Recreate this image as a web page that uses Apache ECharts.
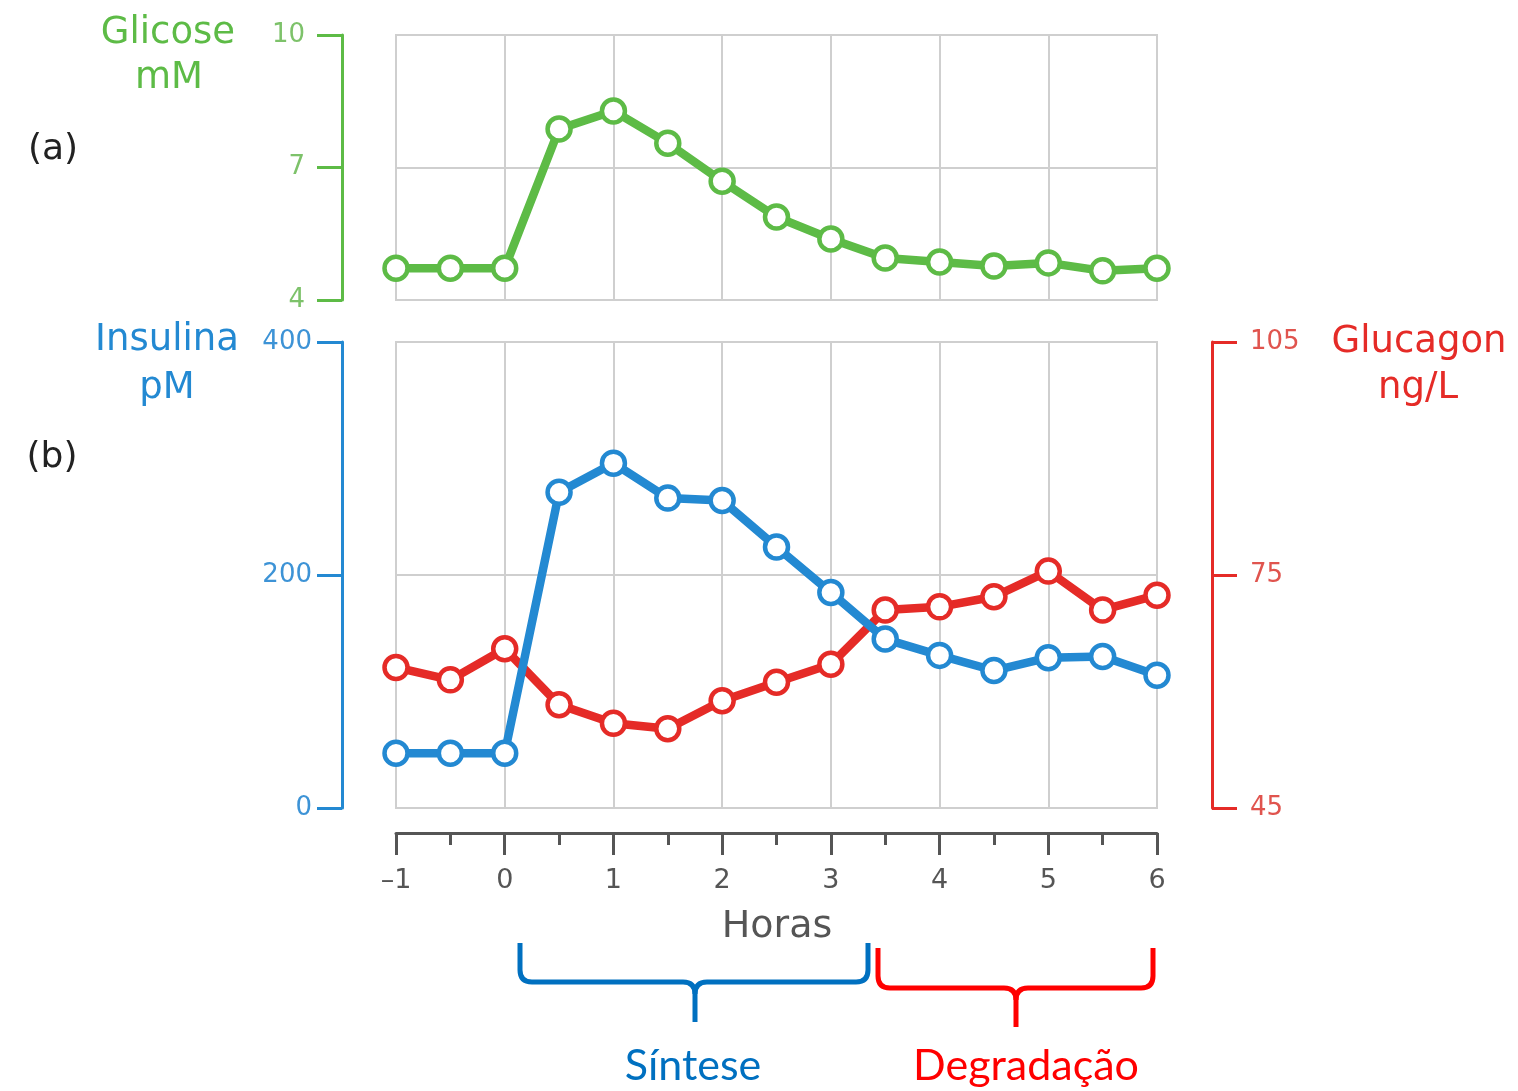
<!DOCTYPE html>
<html>
<head>
<meta charset="utf-8">
<script src="https://cdn.jsdelivr.net/npm/echarts@6/dist/echarts.min.js"></script>
<style>
html,body{margin:0;padding:0;background:#fff;}
#chart{width:1518px;height:1091px;}
</style>
</head>
<body>
<div id="chart"></div>
<script>
// ---- data ----
const hours = [-1, -0.5, 0, 0.5, 1, 1.5, 2, 2.5, 3, 3.5, 4, 4.5, 5, 5.5, 6];
const glucose = [4.72, 4.72, 4.72, 7.87, 8.28, 7.55, 6.69, 5.88, 5.38, 4.95, 4.86, 4.77, 4.84, 4.66, 4.72];
const insulin = [47, 47, 47, 271, 296, 266, 264, 224, 185, 145, 131, 118, 129, 130, 114];
const glucagon = [63.1, 61.5, 65.5, 58.3, 55.9, 55.2, 58.8, 61.2, 63.5, 70.5, 70.9, 72.2, 75.5, 70.5, 72.4];
const glucoseTicks = [4, 7, 10];
const insulinTicks = [0, 200, 400];
const glucagonTicks = [45, 75, 105];
const hourTicks = [-1, 0, 1, 2, 3, 4, 5, 6];

const GREEN = '#5DBB46', BLUE = '#2389D2', RED = '#E52B27';
const FONT = 'DejaVu Sans';

const pairs = (xs, ys) => xs.map((x, i) => [x, ys[i]]);

const chart = echarts.init(document.getElementById('chart'), null, {renderer: 'canvas'});

function yAx(grid, ticks, pos, color, labelColor, offset, margin) {
  return {
    type: 'value', gridIndex: grid, position: pos,
    min: ticks[0], max: ticks[ticks.length - 1], interval: ticks[1] - ticks[0],
    offset: offset,
    axisLine: {show: true, onZero: false, lineStyle: {color: color, width: 3}},
    axisTick: {show: true, length: 25, lineStyle: {color: color, width: 3}},
    axisLabel: {color: labelColor, fontSize: 26, fontFamily: FONT, margin: margin},
    splitLine: {show: grid === 0 || pos === 'left', lineStyle: {color: '#cfcfcf', width: 2}}
  };
}

const lineSeries = (name, xi, yi, data, color) => ({
  name: name, type: 'line', xAxisIndex: xi, yAxisIndex: yi,
  data: data, symbol: 'circle', symbolSize: 23,
  lineStyle: {color: color, width: 8.5},
  itemStyle: {color: '#fff', borderColor: color, borderWidth: 4.5},
  emphasis: {disabled: true}, animation: false
});

function txt(text, x, y, color, size, family) {
  return {type: 'text', x: x, y: y, style: {text: text, fill: color, fontSize: size,
    fontFamily: family || FONT, textAlign: 'center', textVerticalAlign: 'middle'}};
}

function brace(xL, xR, yT, yH, xC, yTip, r, color) {
  const st = {stroke: color, lineWidth: 5, fill: null};
  const ln = (x1, y1, x2, y2) => ({type: 'line', shape: {x1, y1, x2, y2}, style: st});
  const bz = (x1, y1, cx, cy, x2, y2) => ({type: 'bezierCurve',
    shape: {x1, y1, x2, y2, cpx1: cx, cpy1: cy}, style: st});
  return [
    ln(xL, yT, xL, yH - r),
    bz(xL, yH - r, xL, yH, xL + r, yH),
    ln(xL + r, yH, xC - r, yH),
    bz(xC - r, yH, xC, yH, xC, yH + r),
    ln(xC, yH + r, xC, yTip),
    bz(xC, yH + r, xC, yH, xC + r, yH),
    ln(xC + r, yH, xR - r, yH),
    bz(xR - r, yH, xR, yH, xR, yH - r),
    ln(xR, yH - r, xR, yT)
  ];
}

const option = {
  backgroundColor: '#fff',
  animation: false,
  grid: [
    {left: 396, top: 35, width: 761, height: 265, show: true, borderColor: '#cfcfcf', borderWidth: 2},
    {left: 396, top: 342, width: 761, height: 466, show: true, borderColor: '#cfcfcf', borderWidth: 2}
  ],
  xAxis: [
    {type: 'value', gridIndex: 0, min: hourTicks[0], max: hourTicks[hourTicks.length - 1], interval: 1,
     axisLine: {show: false, onZero: false}, axisTick: {show: false}, axisLabel: {show: false},
     splitLine: {show: true, lineStyle: {color: '#cfcfcf', width: 2}}},
    {type: 'value', gridIndex: 1, min: hourTicks[0], max: hourTicks[hourTicks.length - 1], interval: 1,
     position: 'bottom', offset: 25,
     axisLine: {show: true, onZero: false, lineStyle: {color: '#555', width: 3}},
     axisTick: {show: true, length: 22, lineStyle: {color: '#555', width: 3}},
     minorTick: {show: true, splitNumber: 2, length: 12, lineStyle: {color: '#555', width: 3}},
     axisLabel: {color: '#555', fontSize: 27, fontFamily: FONT, margin: 34,
       formatter: v => String(v).replace('-', '\u2013')},
     splitLine: {show: true, lineStyle: {color: '#cfcfcf', width: 2}}}
  ],
  yAxis: [
    yAx(0, glucoseTicks, 'left', GREEN, '#7DC26A', 54, 37),
    yAx(1, insulinTicks, 'left', BLUE, '#3D93D6', 54, 30),
    yAx(1, glucagonTicks, 'right', RED, '#E0544E', 55, 38)
  ],
  series: [
    lineSeries('Glicose', 0, 0, pairs(hours, glucose), GREEN),
    lineSeries('Glucagon', 1, 2, pairs(hours, glucagon), RED),
    lineSeries('Insulina', 1, 1, pairs(hours, insulin), BLUE)
  ],
  graphic: [
    txt('Glicose', 168, 33, GREEN, 37),
    txt('mM', 169, 78, GREEN, 37),
    txt('(a)', 53, 150, '#222', 36),
    txt('Insulina', 167, 340, BLUE, 37),
    txt('pM', 167, 388, BLUE, 37),
    txt('(b)', 52, 458, '#222', 36),
    txt('Glucagon', 1419, 342, RED, 37),
    txt('ng/L', 1418, 388, RED, 37),
    txt('Horas', 777, 927, '#555', 38),
    ...brace(520, 868, 943, 982, 695, 1022, 12, '#0070C0'),
    ...brace(878, 1153, 948, 988, 1016, 1027, 12, '#FF0000'),
    txt('Síntese', 693, 1066, '#0070C0', 43, 'Lato'),
    txt('Degradação', 1026, 1066, '#FF0000', 43, 'Lato')
  ]
};
chart.setOption(option);
</script>
</body>
</html>
